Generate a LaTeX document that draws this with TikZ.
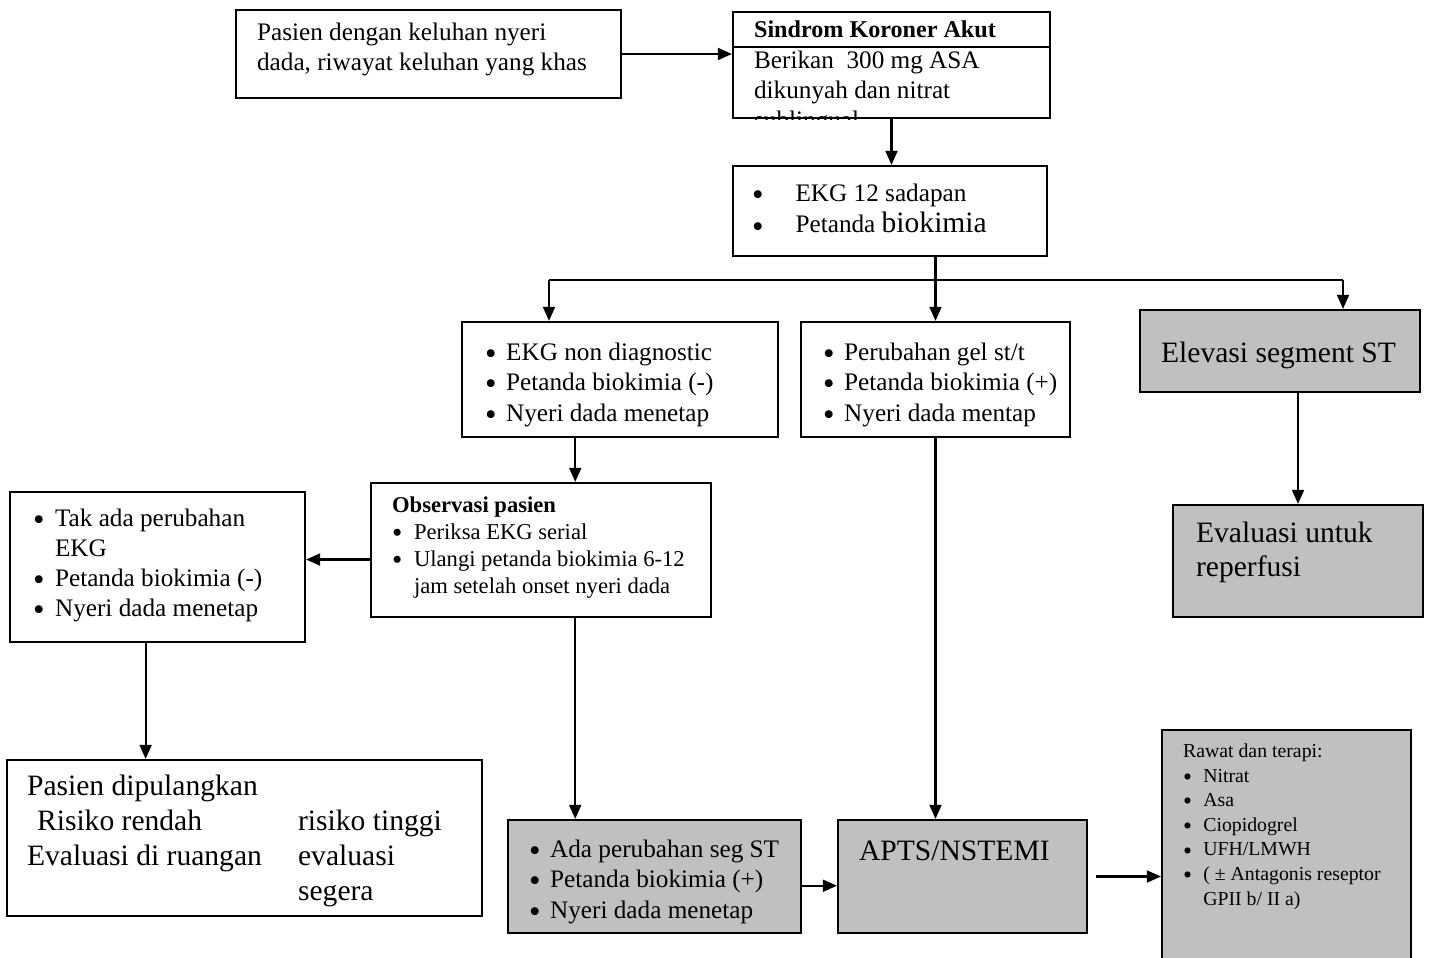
\documentclass[tikz,border=0pt]{standalone}
\usepackage{fontspec}
\setmainfont{Liberation Serif}
\usepackage{tikz}
\usetikzlibrary{positioning}
\usetikzlibrary{calc}
\usetikzlibrary{fit}
\usetikzlibrary{arrows.meta}
\definecolor{boxgray}{HTML}{C0C0C0}
\tikzset{every picture/.style={line width=1pt},box/.style={draw,inner sep=0pt},grey/.style={box,fill=boxgray},txt/.style={anchor=base west,inner sep=0pt,align=left},arr/.style={-{Triangle[length=6.5pt,width=5.5pt]}}}
\newcommand{\bul}[1][9.7pt]{\makebox[#1][l]{\smash{\raisebox{-0.16em}{\scalebox{1.3}{\textbullet}}}}}
\newcommand{\fs}[2]{\fontsize{#1}{#2}\selectfont}

\begin{document}
\begin{tikzpicture}[x=0.46pt,y=-0.46pt]
\useasboundingbox (0,0) rectangle (1429,957);
% kotak
\node[box, fit={(236,10) (621,98)}] (pasien) {};
\node[box, fit={(733,12) (1050,118)}] (ska) {};
\draw ($(ska.north west)+(0,36)$) -- ($(ska.north east)+(0,36)$);
\node[box, fit={(733,166) (1047,256)}] (ekg) {};
\node[box, fit={(462,322) (778,437)}] (nondiag) {};
\node[box, fit={(801,322) (1070,437)}] (ubah) {};
\node[grey, fit={(1140,310) (1420,392)}] (elevasi) {};
\node[grey, fit={(1173,505) (1423,617)}] (reperf) {};
\node[box, fit={(371,483) (711,617)}] (obs) {};
\node[box, fit={(10,492) (305,642)}] (takada) {};
\node[box, fit={(7,760) (482,916)}] (pulang) {};
\node[grey, fit={(508,820) (801,933)}] (segst) {};
\node[grey, fit={(838,820) (1087,933)}] (apts) {};
\node[grey, fit={(1162,730) (1411,962)}] (rawat) {};
% teks (base = baris terakhir)
\node[txt, font=\fs{11.6}{13.8}] (pasientxt) at (256,71) {Pasien dengan keluhan nyeri\\dada, riwayat keluhan yang khas};
\node[txt, font=\bfseries\fs{11.1}{13.8}] (skatitle) at (753,38) {Sindrom Koroner Akut};
\begin{scope}
\clip (ska.west |- 0,48) rectangle (ska.south east);
\node[txt, font=\fs{11.6}{13.8}] (skatxt) at (753,129) {Berikan\ \ 300 mg ASA\\dikunyah dan nitrat\\sublingual};
\end{scope}
\node[txt, font=\fs{11.6}{14.7}] (ekgtxt) at (751,233) {\bul[20pt]EKG 12 sadapan\\\bul[20pt]Petanda {\fs{13.6}{14.7}biokimia}};
\node[txt, font=\fs{11.6}{14}] (nondiagtxt) at (484,421) {\bul EKG non diagnostic\\\bul Petanda biokimia (-)\\\bul Nyeri dada menetap};
\node[txt, font=\fs{11.6}{14}] (ubahtxt) at (822,421) {\bul Perubahan gel st/t\\\bul Petanda biokimia (+)\\\bul Nyeri dada mentap};
\node[txt, font=\fs{13.6}{16}] (elevasitxt) at (1160,362) {Elevasi segment ST};
\node[txt, font=\fs{13.6}{15.6}] (reperftxt) at (1195,576) {Evaluasi untuk\\reperfusi};
\node[txt, font=\fs{10.4}{12.4}] (obstxt) at (391,593) {\textbf{Observasi pasien}\\\bul[10.1pt]Periksa EKG serial\\\bul[10.1pt]Ulangi petanda biokimia 6-12\\\makebox[10.1pt]{}jam setelah onset nyeri dada};
\node[txt, font=\fs{11.6}{13.8}] (takadatxt) at (32,616) {\bul[10.1pt]Tak ada perubahan\\\makebox[10.1pt]{}EKG\\\bul[10.1pt]Petanda biokimia (-)\\\bul[10.1pt]Nyeri dada menetap};
\node[txt, font=\fs{13.6}{15.9}] (pulangtxt) at (26,865) {Pasien dipulangkan\\\hspace*{4.6pt}Risiko rendah\\Evaluasi di ruangan};
\node[txt, font=\fs{13.6}{15.9}] (tinggitxt) at (297,900) {risiko tinggi\\evaluasi\\segera};
\node[txt, font=\fs{11.6}{14}] (segsttxt) at (528,918) {\bul Ada perubahan seg ST\\\bul Petanda biokimia (+)\\\bul Nyeri dada menetap};
\node[txt, font=\fs{13.6}{16}] (aptstxt) at (858,860) {APTS/NSTEMI};
\node[txt, font=\fs{9.1}{11.3}] (rawattxt) at (1182,905) {Rawat dan terapi:\\\bul[9.3pt]Nitrat\\\bul[9.3pt]Asa\\\bul[9.3pt]Ciopidogrel\\\bul[9.3pt]UFH/LMWH\\\bul[9.3pt]( ± Antagonis reseptor\\\makebox[9.3pt]{}GPII b/ II a)};
% panah
\coordinate (busL) at (549,280);
\coordinate (busR) at (1343,280);
\draw[arr] (pasien.east) -- (pasien.east -| ska.west);
\draw[arr] (ska.south) -- (ska.south |- ekg.north);
\draw (ekg.south -| ubah.north) -- (ubah.north |- busL);
\draw (busL) -- (busR);
\draw[arr] (busL) -- (busL |- nondiag.north);
\draw[arr] (ubah.north |- busL) -- (ubah.north);
\draw[arr] (busR) -- (busR |- elevasi.north);
\draw[arr] (reperf.north |- elevasi.south) -- (reperf.north);
\coordinate (obsx) at ($(obs.north west)!0.6!(obs.north east)$);
\draw[arr] (nondiag.south -| obsx) -- (obsx);
\draw[arr] (obs.south -| obsx) -- (segst.north -| obsx);
\coordinate (obsl) at ($(obs.north west)!0.57!(obs.south west)$);
\draw[arr] (obsl) -- (obsl -| takada.east);
\coordinate (takb) at ($(takada.south west)!0.46!(takada.south east)$);
\draw[arr] (takb) -- (takb |- pulang.north);
\draw[arr] (ubah.south) -- (ubah.south |- apts.north);
\coordinate (segr) at ($(segst.north east)!0.58!(segst.south east)$);
\draw[arr] (segr) -- (segr -| apts.west);
%\draw[arr] (apts.east) -- (rawat.west);
\draw[arr, shorten <=3.7pt] (apts.east) -- (apts.east -| rawat.west);
\end{tikzpicture}
\end{document}
